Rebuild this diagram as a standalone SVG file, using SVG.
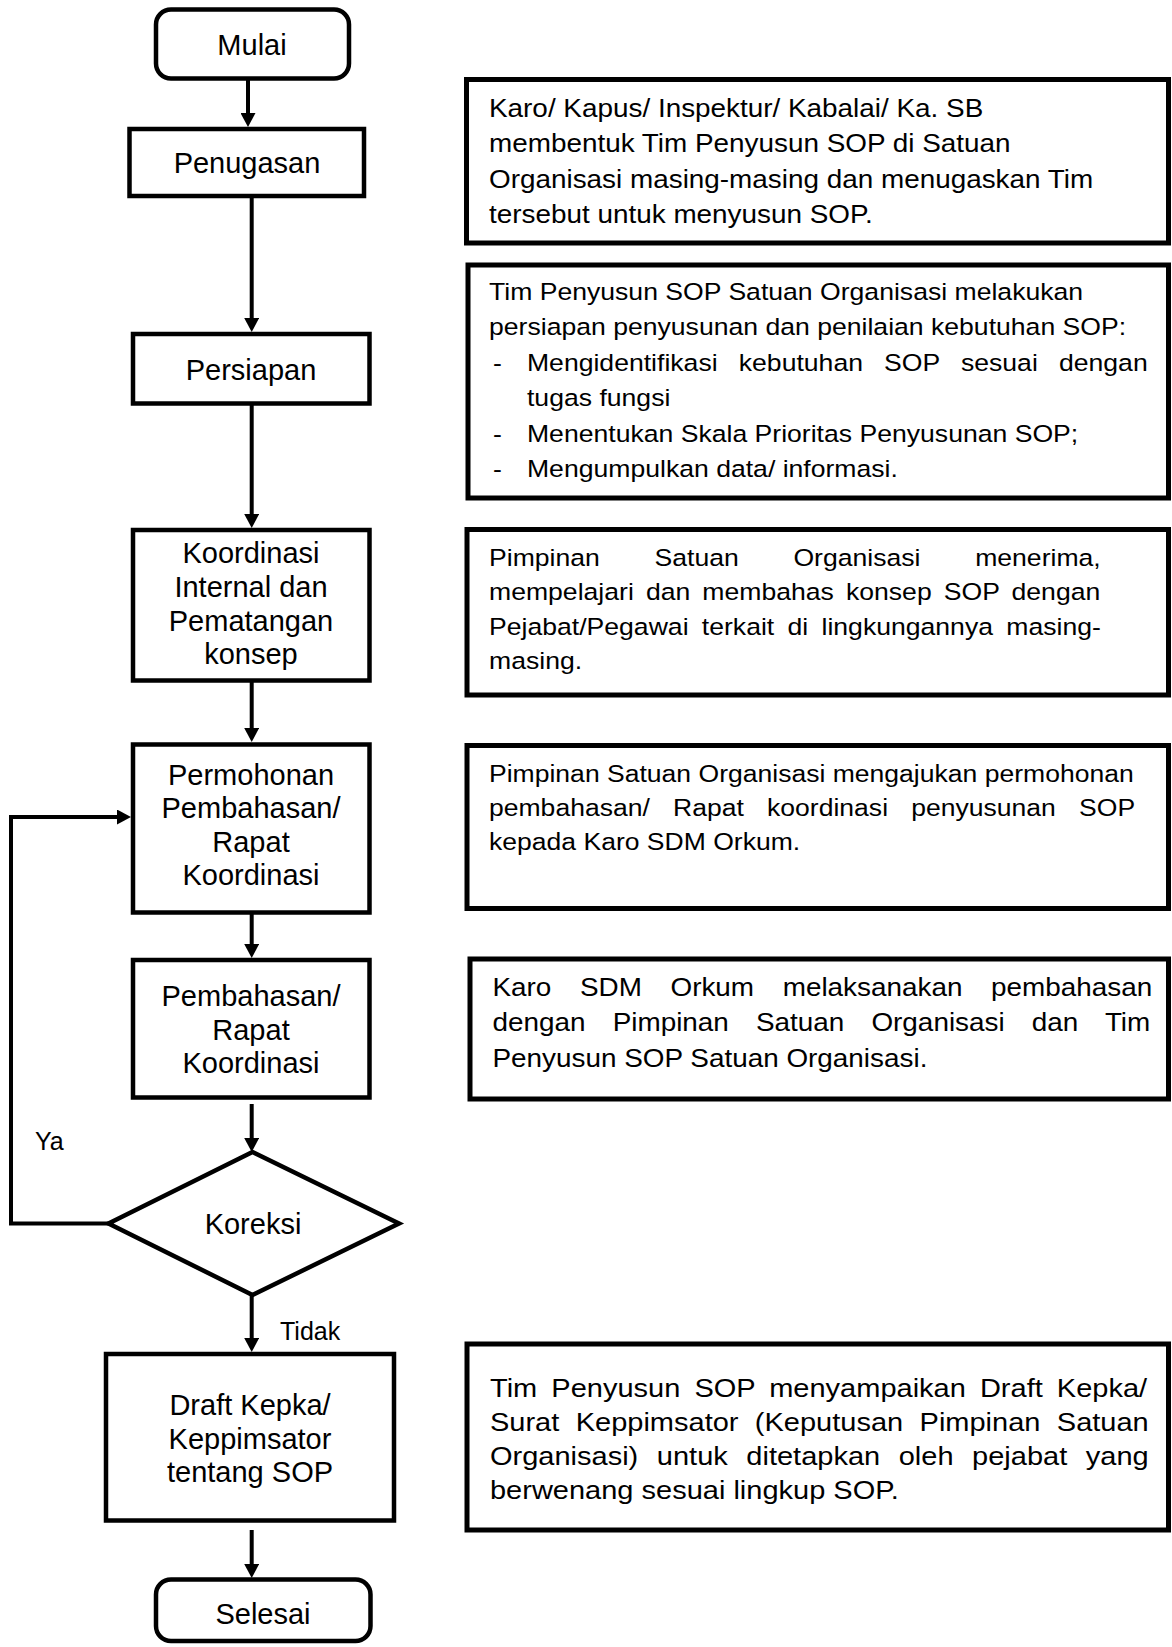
<svg xmlns="http://www.w3.org/2000/svg" width="1172" height="1647" viewBox="0 0 1172 1647">
<style>
.box{fill:#fff;stroke:#000;stroke-width:4.5}
.rbox{fill:#fff;stroke:#000;stroke-width:5}
.conn{fill:none;stroke:#000;stroke-width:4}
text{font-family:"Liberation Sans",Arial,sans-serif;fill:#000}
.lt{font-size:29px;text-anchor:middle}
.lbl{font-size:25px}
</style>
<defs>
<marker id="ah" markerUnits="userSpaceOnUse" markerWidth="15" markerHeight="15" refX="0" refY="7.5" orient="auto">
<path d="M0,0 L14,7.5 L0,15 z" fill="#000"/>
</marker>
</defs>
<rect width="1172" height="1647" fill="#fff"/>

<g id="connectors">
<path class="conn" d="M248,78.5 V113" marker-end="url(#ah)"/>
<path class="conn" d="M251.7,196 V318" marker-end="url(#ah)"/>
<path class="conn" d="M251.7,403.5 V514" marker-end="url(#ah)"/>
<path class="conn" d="M251.7,680.5 V728" marker-end="url(#ah)"/>
<path class="conn" d="M251.7,912.5 V944" marker-end="url(#ah)"/>
<path class="conn" d="M251.7,1104 V1138" marker-end="url(#ah)"/>
<path class="conn" d="M251.7,1295 V1338" marker-end="url(#ah)"/>
<path class="conn" d="M251.7,1530 V1564" marker-end="url(#ah)"/>
<path class="conn" d="M108.5,1223.5 H11 V817 H117" marker-end="url(#ah)"/>
<text class="lbl" x="35" y="1150">Ya</text>
<text class="lbl" x="280" y="1340">Tidak</text>
</g>

<g id="mulai">
<rect class="box" x="156" y="9.5" width="193" height="69" rx="15"/>
<text class="lt" x="252" y="55">Mulai</text>
</g>
<g id="penugasan">
<rect class="box" x="129.5" y="129" width="234.5" height="67"/>
<text class="lt" x="247" y="173">Penugasan</text>
</g>
<g id="persiapan">
<rect class="box" x="133" y="334" width="236.5" height="69.5"/>
<text class="lt" x="251" y="380">Persiapan</text>
</g>
<g id="koordinasi">
<rect class="box" x="133" y="530" width="236.5" height="150.5"/>
<text class="lt" x="251" y="563">Koordinasi</text>
<text class="lt" x="251" y="597">Internal dan</text>
<text class="lt" x="251" y="630.5">Pematangan</text>
<text class="lt" x="251" y="664">konsep</text>
</g>
<g id="permohonan">
<rect class="box" x="133" y="744.5" width="236.5" height="168"/>
<text class="lt" x="251" y="785">Permohonan</text>
<text class="lt" x="251" y="818">Pembahasan/</text>
<text class="lt" x="251" y="851.5">Rapat</text>
<text class="lt" x="251" y="885">Koordinasi</text>
</g>
<g id="pembahasan">
<rect class="box" x="133" y="960" width="236.5" height="137.5"/>
<text class="lt" x="251" y="1005.5">Pembahasan/</text>
<text class="lt" x="251" y="1039.5">Rapat</text>
<text class="lt" x="251" y="1073">Koordinasi</text>
</g>
<g id="koreksi">
<polygon class="box" points="252.5,1152 399,1223.5 252.5,1295 108.5,1223.5"/>
<text class="lt" x="253" y="1234">Koreksi</text>
</g>
<g id="draft">
<rect class="box" x="106" y="1354" width="288" height="166.5"/>
<text class="lt" x="250" y="1415">Draft Kepka/</text>
<text class="lt" x="250" y="1448.5">Keppimsator</text>
<text class="lt" x="250" y="1481.5">tentang SOP</text>
</g>
<g id="selesai">
<rect class="box" x="156" y="1579.5" width="214.5" height="61.5" rx="15"/>
<text class="lt" x="263" y="1624">Selesai</text>
</g>

<g id="desc-penugasan">
<rect class="rbox" x="466.5" y="79.5" width="702" height="163.5"/>
<g transform="translate(489 0) scale(1.12 1)" font-size="24.9">
<text x="0" y="117">Karo/ Kapus/ Inspektur/ Kabalai/ Ka. SB</text>
<text x="0" y="152.5">membentuk Tim Penyusun SOP di Satuan</text>
<text x="0" y="188">Organisasi masing-masing dan menugaskan Tim</text>
<text x="0" y="223.5">tersebut untuk menyusun SOP.</text>
</g>
</g>
<g id="desc-persiapan">
<rect class="rbox" x="468" y="265" width="700.5" height="233"/>
<g transform="translate(489 0) scale(1.12 1)" font-size="23.75">
<text x="0" y="300">Tim Penyusun SOP Satuan Organisasi melakukan</text>
<text x="0" y="335.5">persiapan penyusunan dan penilaian kebutuhan SOP:</text>
<text x="3.6" y="371">-</text>
<text x="33.9" y="371" word-spacing="12.3">Mengidentifikasi kebutuhan SOP sesuai dengan</text>
<text x="33.9" y="406.5">tugas fungsi</text>
<text x="3.6" y="442">-</text>
<text x="33.9" y="442">Menentukan Skala Prioritas Penyusunan SOP;</text>
<text x="3.6" y="477">-</text>
<text x="33.9" y="477">Mengumpulkan data/ informasi.</text>
</g>
</g>
<g id="desc-koordinasi">
<rect class="rbox" x="467" y="529.5" width="701.5" height="165.5"/>
<g transform="translate(489 0) scale(1.12 1)" font-size="23.75">
<text x="0" y="566" word-spacing="42.2">Pimpinan Satuan Organisasi menerima,</text>
<text x="0" y="600.5" word-spacing="4.2">mempelajari dan membahas konsep SOP dengan</text>
<text x="0" y="635.5" word-spacing="5.27">Pejabat/Pegawai terkait di lingkungannya masing-</text>
<text x="0" y="669.5">masing.</text>
</g>
</g>
<g id="desc-permohonan">
<rect class="rbox" x="467" y="745.5" width="701.5" height="163"/>
<g transform="translate(489 0) scale(1.12 1)" font-size="23.7">
<text x="0" y="782">Pimpinan Satuan Organisasi mengajukan permohonan</text>
<text x="0" y="816" word-spacing="14.15">pembahasan/ Rapat koordinasi penyusunan SOP</text>
<text x="0" y="850">kepada Karo SDM Orkum.</text>
</g>
</g>
<g id="desc-pembahasan">
<rect class="rbox" x="470" y="959" width="698.5" height="140"/>
<g transform="translate(492.5 0) scale(1.12 1)" font-size="24.9">
<text x="0" y="996" word-spacing="18.6">Karo SDM Orkum melaksanakan pembahasan</text>
<text x="0" y="1031" word-spacing="17.3">dengan Pimpinan Satuan Organisasi dan Tim</text>
<text x="0" y="1067">Penyusun SOP Satuan Organisasi.</text>
</g>
</g>
<g id="desc-draft">
<rect class="rbox" x="467" y="1344" width="701.5" height="186"/>
<g transform="translate(490 0) scale(1.12 1)" font-size="25.9">
<text x="0" y="1397" word-spacing="5.4">Tim Penyusun SOP menyampaikan Draft Kepka/</text>
<text x="0" y="1431" word-spacing="7.45">Surat Keppimsator (Keputusan Pimpinan Satuan</text>
<text x="0" y="1465" word-spacing="9.4">Organisasi) untuk ditetapkan oleh pejabat yang</text>
<text x="0" y="1499">berwenang sesuai lingkup SOP.</text>
</g>
</g>
</svg>
